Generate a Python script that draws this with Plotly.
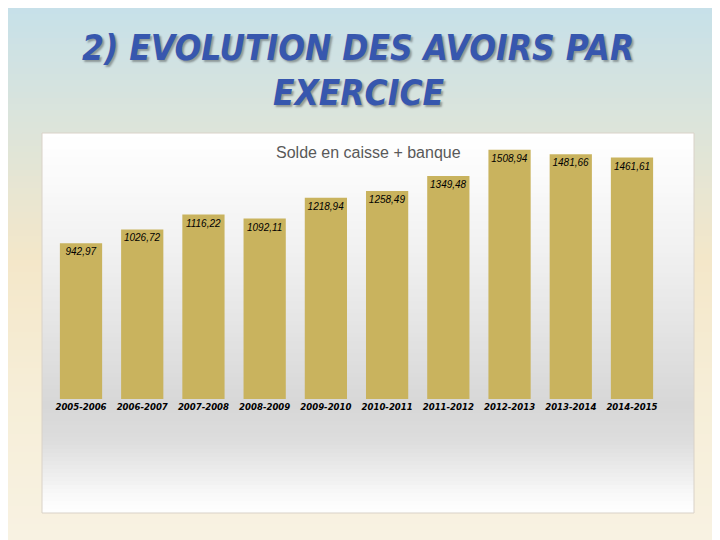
import plotly.graph_objects as go

# ---- data ----
exercices = ["2005-2006", "2006-2007", "2007-2008", "2008-2009", "2009-2010",
             "2010-2011", "2011-2012", "2012-2013", "2013-2014", "2014-2015"]
soldes = [942.97, 1026.72, 1116.22, 1092.11, 1218.94,
          1258.49, 1349.48, 1508.94, 1481.66, 1461.61]
labels = [f"{v:.2f}".replace(".", ",") for v in soldes]

# the page places the figure 8px from the top-left corner of the window
OFF = 8
W, H = 720 - OFF, 540 - OFF

def px(rx):
    return (rx - OFF) / W

def py(ry):
    return 1 - (ry - OFF) / H

def lerp_stops(stops, y):
    for (y0, c0), (y1, c1) in zip(stops, stops[1:]):
        if y0 <= y <= y1:
            t = (y - y0) / (y1 - y0) if y1 > y0 else 0
            return tuple(round(a + (b - a) * t) for a, b in zip(c0, c1))
    return stops[-1][1]

shapes = []
# page background gradient
page_stops = [(0, (197, 224, 234)), (120, (219, 228, 219)), (260, (244, 231, 201)),
              (400, (246, 238, 216)), (540, (248, 242, 226))]
step = 6
for y in range(OFF, 540, step):
    c = lerp_stops(page_stops, y + step / 2)
    shapes.append(dict(type="rect", xref="paper", yref="paper", layer="below",
                       x0=0, x1=1, y0=py(min(y + step + 1, 540)), y1=py(y),
                       fillcolor=f"rgb{c}", line_width=0))
# panel gradient
bx0, bx1, by0, by1 = 42, 694, 133, 513
panel_stops = [(133, (255, 255, 255)), (180, (250, 250, 250)), (270, (238, 238, 238)),
               (340, (226, 226, 226)), (405, (215, 215, 215)), (440, (221, 221, 221)),
               (470, (235, 235, 235)), (495, (249, 249, 249)), (513, (255, 255, 255))]
step = 4
for y in range(by0, by1, step):
    y2 = min(y + step + 1, by1)
    c = lerp_stops(panel_stops, y + step / 2)
    shapes.append(dict(type="rect", xref="paper", yref="paper", layer="below",
                       x0=px(bx0), x1=px(bx1), y0=py(y2), y1=py(y),
                       fillcolor=f"rgb{c}", line_width=0))
shapes.append(dict(type="rect", xref="paper", yref="paper", layer="below",
                   x0=px(bx0), x1=px(bx1), y0=py(by1), y1=py(by0),
                   fillcolor="rgba(0,0,0,0)", line=dict(color="#d9d2c8", width=1)))

fig = go.Figure(go.Bar(
    x=exercices, y=soldes, text=labels,
    textposition="inside", insidetextanchor="end", textangle=0,
    constraintext="none",
    textfont=dict(family="Liberation Sans, Arial, sans-serif",
                  size=10, color="black", style="italic"),
    marker=dict(color="#c9b35e", line_width=0),
    hoverinfo="skip",
))

cond = "DejaVu Sans Condensed, DejaVu Sans, sans-serif"
title_font = dict(family=cond, size=35, color="#3757ae", weight="bold", style="italic",
                  shadow="2px 2px 2px rgba(40,40,40,0.4)")
annotations = []
for txt, yc in [("2) EVOLUTION DES AVOIRS PAR", 48), ("EXERCICE", 93)]:
    annotations.append(dict(text=txt, xref="paper", yref="paper", x=px(358),
                            y=py(yc), showarrow=False, font=title_font,
                            xanchor="center", yanchor="middle"))
annotations.append(dict(text="Solde en caisse + banque", xref="paper", yref="paper",
                        x=px(368), y=py(152), showarrow=False,
                        font=dict(family="Liberation Sans, Arial, sans-serif", size=16,
                                  color="#595959"),
                        xanchor="center", yanchor="middle"))

fig.update_layout(
    width=W, height=H,
    margin=dict(l=0, r=0, t=0, b=0),
    paper_bgcolor="#f7efd9", plot_bgcolor="rgba(0,0,0,0)",
    shapes=shapes, annotations=annotations,
    bargap=0.31, showlegend=False,
    xaxis=dict(domain=[px(50.4), px(662.6)], showgrid=False, zeroline=False,
               showline=False, ticks="", automargin=False, tickangle=0,
               tickfont=dict(family=cond, size=9.5, color="black",
                             weight="bold", style="italic")),
    yaxis=dict(domain=[py(399), py(140)], range=[0, 1568], visible=False,
               showgrid=False, zeroline=False, automargin=False),
)

fig.write_html("out.html")
